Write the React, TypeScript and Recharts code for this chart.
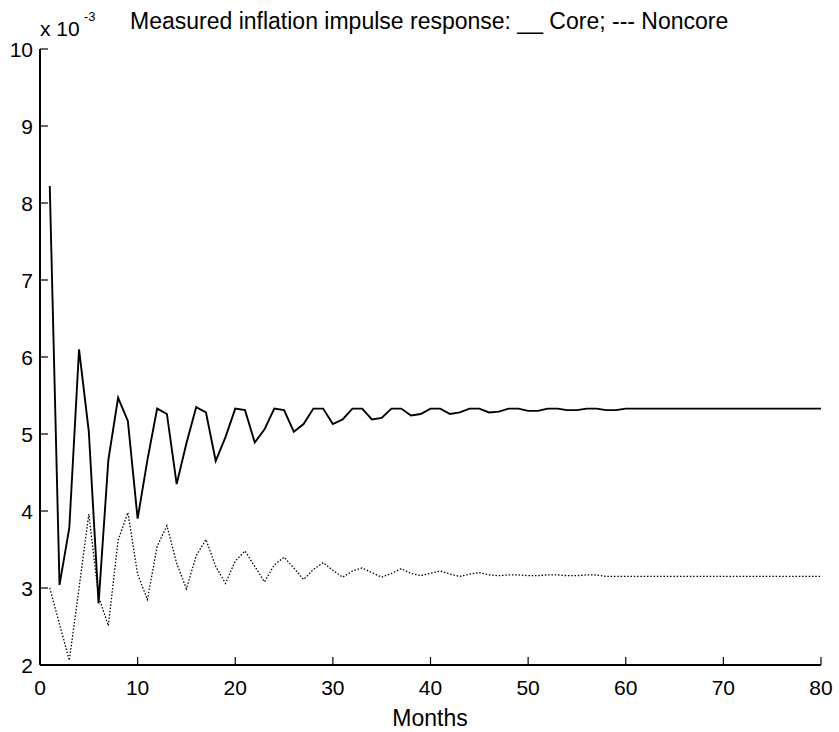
import React from "react";
import { LineChart, Line, XAxis, YAxis } from "recharts";

// months 1..80, values in units of 1e-3
const months: number[] = Array.from({ length: 80 }, (_, i) => i + 1);

const core = [
  8.22, 3.04, 3.78, 6.1, 5.03, 2.8, 4.66, 5.47, 5.17, 3.9,
  4.66, 5.33, 5.26, 4.35, 4.88, 5.35, 5.28, 4.65, 4.96, 5.33,
  5.31, 4.89, 5.06, 5.33, 5.31, 5.03, 5.13, 5.33, 5.33, 5.13,
  5.19, 5.33, 5.33, 5.19, 5.21, 5.33, 5.33, 5.24, 5.26, 5.33,
  5.33, 5.26, 5.28, 5.33, 5.33, 5.28, 5.29, 5.33, 5.33, 5.3,
  5.3, 5.33, 5.33, 5.31, 5.31, 5.33, 5.33, 5.31, 5.31, 5.33,
  5.33, 5.33, 5.33, 5.33, 5.33, 5.33, 5.33, 5.33, 5.33, 5.33,
  5.33, 5.33, 5.33, 5.33, 5.33, 5.33, 5.33, 5.33, 5.33, 5.33,
];

const noncore = [
  3.0, 2.53, 2.06, 3.0, 3.96, 2.89, 2.51, 3.62, 3.98, 3.18,
  2.85, 3.54, 3.81, 3.32, 2.99, 3.42, 3.63, 3.28, 3.06, 3.35,
  3.48, 3.28, 3.08, 3.3, 3.4, 3.26, 3.11, 3.24, 3.33, 3.23,
  3.14, 3.22, 3.26, 3.2, 3.14, 3.19, 3.25, 3.19, 3.16, 3.19,
  3.22, 3.18, 3.15, 3.18, 3.2, 3.17, 3.16, 3.17, 3.17, 3.16,
  3.16, 3.17, 3.17, 3.16, 3.16, 3.17, 3.17, 3.15, 3.15, 3.15,
  3.15, 3.15, 3.15, 3.15, 3.15, 3.15, 3.15, 3.15, 3.15, 3.15,
  3.15, 3.15, 3.15, 3.15, 3.15, 3.15, 3.15, 3.15, 3.15, 3.15,
];

const xTicks = [0, 10, 20, 30, 40, 50, 60, 70, 80];
const yTicks = [2, 3, 4, 5, 6, 7, 8, 9, 10];

const titleText = "Measured inflation impulse response: __ Core; --- Noncore";
const xLabel = "Months";

const data = months.map((m, i) => ({ m, core: core[i], noncore: noncore[i] }));

const FONT = "'Liberation Sans', Arial, sans-serif";
const TICK = 8;

const BottomTick = (p: any) => (
  <g>
    <line x1={p.x} y1={p.y} x2={p.x} y2={p.y - TICK} stroke="#000" strokeWidth={1.2} />
    <text x={p.x} y={p.y + 30} textAnchor="middle" fontSize={21} fontFamily={FONT} fill="#000">
      {p.payload.value}
    </text>
  </g>
);

const TopTick = (p: any) => (
  <line x1={p.x} y1={p.y} x2={p.x} y2={p.y + TICK} stroke="#000" strokeWidth={1.2} />
);

const LeftTick = (p: any) => (
  <g>
    <line x1={p.x} y1={p.y} x2={p.x + TICK} y2={p.y} stroke="#000" strokeWidth={1.2} />
    <text x={p.x - 7} y={p.y + 7.5} textAnchor="end" fontSize={21} fontFamily={FONT} fill="#000">
      {p.payload.value}
    </text>
  </g>
);

const RightTick = (p: any) => (
  <line x1={p.x} y1={p.y} x2={p.x - TICK} y2={p.y} stroke="#000" strokeWidth={1.2} />
);

export default function App() {
  return (
    <div style={{ position: "absolute", left: 0, top: 0, width: 839, height: 732, background: "#fff" }}>
      <LineChart
        width={839}
        height={732}
        data={data}
        margin={{ top: 49, right: 18, bottom: 0, left: 0 }}
      >
        <XAxis
          dataKey="m"
          type="number"
          domain={[0, 80]}
          ticks={xTicks}
          interval={0}
          height={67}
          tickSize={0}
          tickMargin={0}
          tickLine={false}
          axisLine={{ stroke: "#000", strokeWidth: 2 }}
          tick={BottomTick}
        />
        <XAxis
          xAxisId="top"
          orientation="top"
          dataKey="m"
          type="number"
          domain={[0, 80]}
          ticks={xTicks}
          interval={0}
          height={0}
          tickSize={0}
          tickMargin={0}
          tickLine={false}
          axisLine={{ stroke: "#000", strokeWidth: 2 }}
          tick={TopTick}
        />
        <YAxis
          type="number"
          domain={[2, 10]}
          ticks={yTicks}
          interval={0}
          width={40}
          tickSize={0}
          tickMargin={0}
          tickLine={false}
          allowDataOverflow
          axisLine={{ stroke: "#000", strokeWidth: 2 }}
          tick={LeftTick}
        />
        <YAxis
          yAxisId="right"
          orientation="right"
          type="number"
          domain={[2, 10]}
          ticks={yTicks}
          interval={0}
          width={0}
          tickSize={0}
          tickMargin={0}
          tickLine={false}
          axisLine={{ stroke: "#000", strokeWidth: 2 }}
          tick={RightTick}
        />
        <Line
          dataKey="noncore"
          stroke="#000"
          strokeWidth={1.3}
          strokeDasharray="1.5 1.8"
          dot={false}
          isAnimationActive={false}
        />
        <Line
          dataKey="core"
          stroke="#000"
          strokeWidth={1.9}
          dot={false}
          isAnimationActive={false}
        />
      </LineChart>
      <svg
        width={839}
        height={732}
        style={{ position: "absolute", left: 0, top: 0, pointerEvents: "none" }}
      >
        <text x={40} y={36} fontSize={21} fontFamily={FONT} fill="#000">x 10</text>
        <text x={84} y={21} fontSize={13} fontFamily={FONT} fill="#000">-3</text>
        <text x={130} y={29} fontSize={23} fontFamily={FONT} fill="#000">{titleText}</text>
        <text x={430} y={726} textAnchor="middle" fontSize={23} fontFamily={FONT} fill="#000">{xLabel}</text>
      </svg>
    </div>
  );
}
